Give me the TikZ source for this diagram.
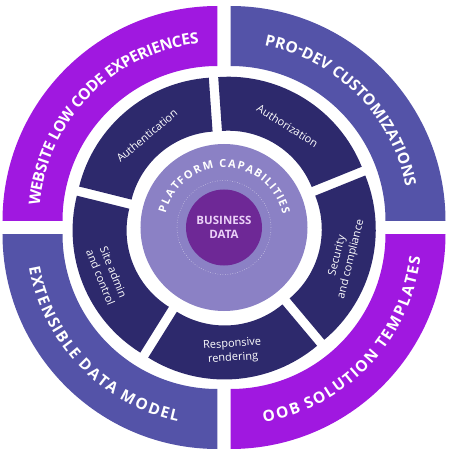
\documentclass[tikz,border=0pt]{standalone}
\usepackage{fontspec}
\setmainfont{Open Sans}
\usepackage{xcolor}
\usepackage{tikz}
\usetikzlibrary{decorations.text}
\definecolor{lowcode}{RGB}{160,24,224}
\definecolor{prodev}{RGB}{84,83,168}
\definecolor{capnavy}{RGB}{45,41,108}
\definecolor{platform}{RGB}{139,129,197}
\definecolor{bizdata}{RGB}{110,40,150}
\definecolor{biztext}{RGB}{234,208,247}
\newcommand{\RingIn}{155}
\newcommand{\RingOut}{215}
\newcommand{\MidIn}{90}
\newcommand{\MidOut}{144}
\tikzset{
  seglabel/.style={text=white, font=\fontsize{11}{14}\selectfont, align=center, inner sep=0pt},
  bizlabel/.style={text=biztext, font=\fontsize{11.5}{14}\selectfont\bfseries, align=center},
  % letters spread over the whole arc
  arctext/.style 2 args={decorate, decoration={text effects along path, text={#2},
    text effects/.cd, text along path, fit text to path,
    characters={text=white, anchor=center, inner sep=0pt, font=\fontsize{#1}{#1}\selectfont\bfseries}}}
}
% outer quarter ring, pushed out from the centre by (#3,#4)
\newcommand{\Quadrant}[4]{%
  \fill[#2, shift={(#3,#4)}] (#1:\RingOut) arc[start angle=#1, end angle={#1+90}, radius=\RingOut]
    -- ({#1+90}:\RingIn) arc[start angle={#1+90}, end angle=#1, radius=\RingIn] -- cycle;
}
% middle ring piece, pushed out along its bisector
\newcommand{\Segment}[2]{%
  \fill[capnavy, shift={({(#1+#2)/2}:8)}] (#1:\MidOut) arc[start angle=#1, end angle=#2, radius=\MidOut]
    -- (#2:\MidIn) arc[start angle=#2, end angle=#1, radius=\MidIn] -- cycle;
}

\begin{document}
\begin{tikzpicture}[x=1pt, y=1pt]
  \useasboundingbox (-224,-227.5) rectangle (226,227.5);
  % outer quadrants
  \Quadrant{90}{lowcode}{-6.5}{6.5}
  \Quadrant{0}{prodev}{6.5}{6.5}
  \Quadrant{180}{prodev}{-6.5}{-6.5}
  \Quadrant{270}{lowcode}{6.5}{-6.5}
  \path[arctext={15.5}{WEBSITE LOW CODE EXPERIENCES}] ([shift={(-6.5,6.5)}]175:184) arc[start angle=175, end angle=96, radius=184];
  \path[arctext={15.5}{PRO-DEV CUSTOMIZATIONS}] ([shift={(6.5,6.5)}]79:184) arc[start angle=79, end angle=11, radius=184];
  \path[arctext={15.5}{EXTENSIBLE DATA MODEL}] ([shift={(-6.5,-6.5)}]190:186) arc[start angle=190, end angle=258, radius=186];
  \path[arctext={15.5}{OOB SOLUTION TEMPLATES}] ([shift={(6.5,-6.5)}]-80:186) arc[start angle=-80, end angle=-7, radius=186];
  % middle ring
  \foreach \a in {-50,22,94,166,238}{
    \pgfmathtruncatemacro{\b}{\a+72}
    \Segment{\a}{\b}
  }
  \node[seglabel, rotate=40] (authn) at (130:120) {Authentication};
  \node[seglabel, rotate=-32] (authz) at (58:120) {Authorization};
  \node[seglabel, rotate=76] (secure) at (-14:124) {Security\\and compliance};
  \node[seglabel, rotate=4] (render) at (-86:124) {Responsive\\rendering};
  \node[seglabel, rotate=-68] (admin) at (-158:126) {Site admin\\and control};
  % platform core
  \fill[platform] (0,0) circle[radius=83.5];
  \draw[white!75!platform, dotted, line width=0.5pt] (0,0) circle[radius=47];
  \fill[bizdata] (0,0) circle[radius=38];
  \node[bizlabel] (biz) at (0,0) {BUSINESS\\DATA};
  \path[arctext={11}{PLATFORM CAPABILITIES}] (166:64) arc[start angle=166, end angle=13, radius=64];
\end{tikzpicture}
\end{document}
